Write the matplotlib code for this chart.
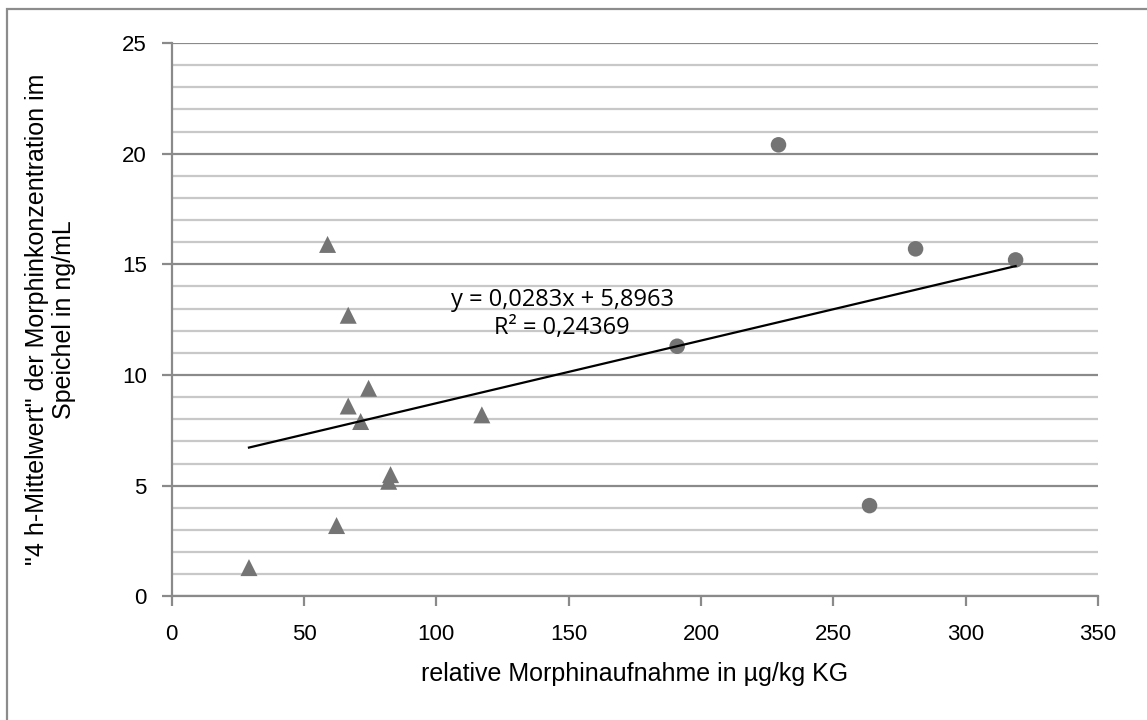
"""Scatter of saliva morphine concentration vs. relative morphine intake, with linear trend."""

import matplotlib

matplotlib.use("Agg")
import matplotlib.pyplot as plt
from matplotlib.patches import Rectangle
from matplotlib.ticker import MultipleLocator

# triangle group (lower intake)
tri_x = [29.2, 58.9, 62.3, 66.7, 66.7, 71.4, 74.4, 82.0, 82.7, 117.2]
tri_y = [1.3, 15.9, 3.2, 12.7, 8.6, 7.9, 9.4, 5.2, 5.5, 8.2]

# circle group (higher intake)
circ_x = [191.0, 229.3, 263.7, 281.1, 318.9]
circ_y = [11.3, 20.4, 4.1, 15.7, 15.2]

# trend line as printed on the chart
slope = 0.0283
intercept = 5.8963
eq_text = "y = 0,0283x + 5,8963\nR² = 0,24369"

x_ticks = [0, 50, 100, 150, 200, 250, 300, 350]
y_ticks = [0, 5, 10, 15, 20, 25]

MARK = "#747474"
plt.rcParams["font.family"] = ["Liberation Sans", "DejaVu Sans"]

fig = plt.figure(figsize=(11.47, 7.2), dpi=100)
ax = fig.add_axes([0.1497, 0.1717, 0.8075, 0.7686])

# outer chart frame (right/bottom edges run off the image)
fig.patches.append(
    Rectangle((7 / 1147, -0.1), 1.2, 1 - 9 / 720 + 0.1, transform=fig.transFigure,
              fill=False, edgecolor="#8c8c8c", linewidth=1.6, zorder=0)
)

ax.set_xlim(0, 350)
ax.set_ylim(0, 25)
ax.set_xticks(x_ticks)
ax.set_yticks(y_ticks)
ax.yaxis.set_minor_locator(MultipleLocator(1))

ax.grid(axis="y", which="major", color="#8a8a8a", linewidth=1.6)
ax.grid(axis="y", which="minor", color="#c8c8c8", linewidth=1.6)
ax.set_axisbelow(True)

for side in ("top", "right"):
    ax.spines[side].set_visible(False)
for side in ("left", "bottom"):
    ax.spines[side].set_color("#8a8a8a")
    ax.spines[side].set_linewidth(1.6)

ax.tick_params(axis="both", which="major", direction="out", length=7, width=1.6,
               color="#8a8a8a", labelsize=16)
ax.tick_params(axis="y", which="minor", length=0)
ax.tick_params(axis="y", pad=11)
ax.tick_params(axis="x", pad=13)

ax.scatter(tri_x, tri_y, marker="^", s=150, color=MARK, edgecolors="none", zorder=3)
ax.scatter(circ_x, circ_y, marker="o", s=125, color=MARK, edgecolors="none", zorder=3)

all_x = tri_x + circ_x
x0, x1 = min(all_x), max(all_x)
ax.plot([x0, x1], [slope * x0 + intercept, slope * x1 + intercept],
        color="black", linewidth=1.6, zorder=4)

ax.text(147.5, 12.75, eq_text, ha="center", va="center", fontsize=17,
        family=["Open Sans", "DejaVu Sans"], linespacing=1.2, zorder=5)

ax.set_xlabel("relative Morphinaufnahme in µg/kg KG", fontsize=18, labelpad=12)
ax.set_ylabel("\"4 h-Mittelwert\" der Morphinkonzentration im\nSpeichel in ng/mL",
              fontsize=18, linespacing=1.2)
ax.yaxis.set_label_coords(-0.103, 0.5)

fig.savefig("out.png", dpi=100)
